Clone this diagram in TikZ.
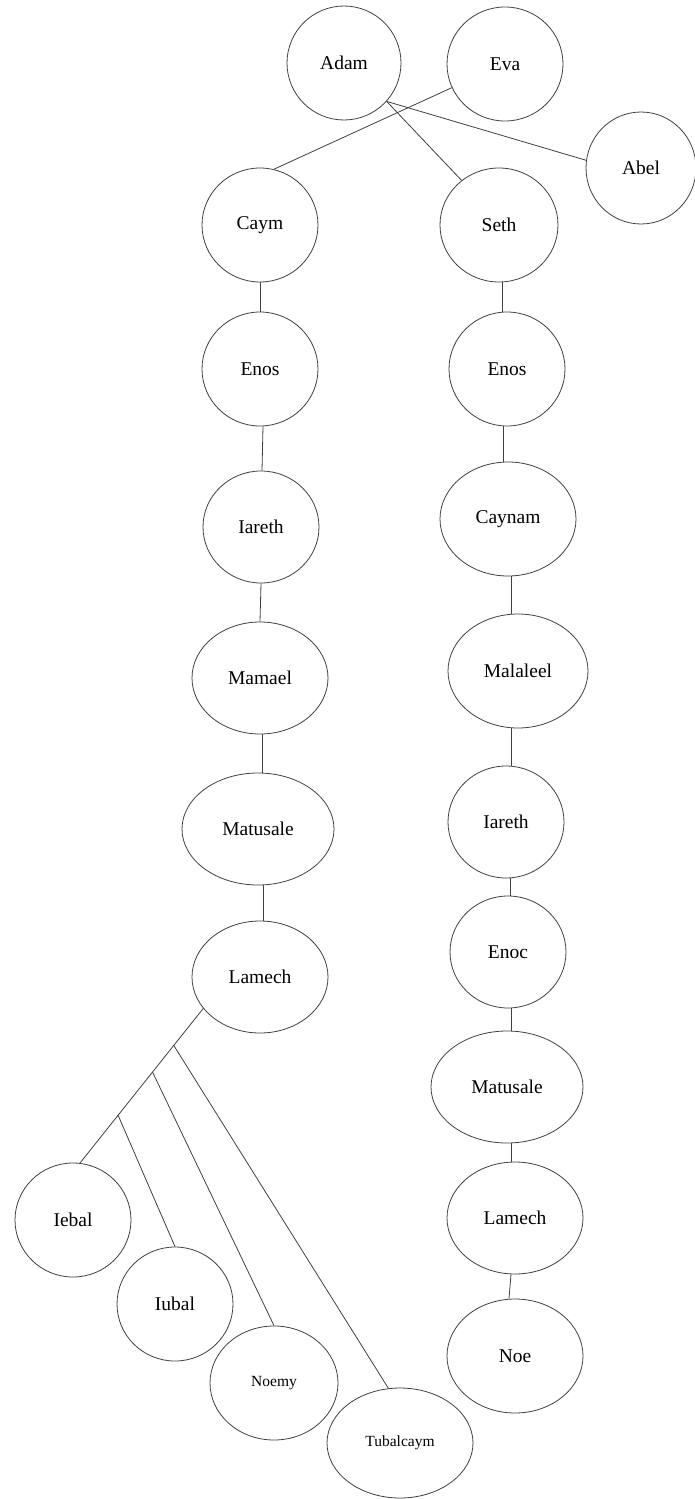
\documentclass[tikz,border=0pt]{standalone}
\usepackage{fontspec}
\setmainfont{Liberation Serif}
\usetikzlibrary{shapes.geometric}
\tikzset{
  person/.style={ellipse, draw=black!75, line width=0.8pt, inner sep=0pt,
    font=\fontsize{19.5}{22}\selectfont},
  smallperson/.style={person, font=\fontsize{15.5}{18}\selectfont},
  link/.style={draw=black!75, line width=0.8pt},
  sz/.style 2 args={minimum width=#1pt, minimum height=#2pt}
}
\begin{document}
\begin{tikzpicture}[x=1pt,y=-1pt]
\useasboundingbox (0,0) rectangle (694,1499);
% top
\node[person, sz={114}{114}] (adam) at (344,63) {Adam};
\node[person, sz={116}{114}] (eva) at (505,64) {Eva};
\node[person, sz={110}{112}] (abel) at (641,168) {Abel};
% left column
\node[person, sz={116}{114}] (caym) at (260,225) {Caym};
\node[person, sz={116}{114}] (enosL) at (260,369) {Enos};
\node[person, sz={116}{112}] (iarethL) at (261,527) {Iareth};
\node[person, sz={136}{112}] (mamael) at (260,678) {Mamael};
\node[person, sz={152}{112}] (matusaleL) at (258,829) {Matusale};
\node[person, sz={136}{112}] (lamechL) at (260,977) {Lamech};
% right column
\node[person, sz={118}{114}] (seth) at (499,225) {Seth};
\node[person, sz={116}{114}] (enosR) at (507,369) {Enos};
\node[person, sz={136}{114}] (caynam) at (508,519) {Caynam};
\node[person, sz={140}{114}] (malaleel) at (518,671) {Malaleel};
\node[person, sz={116}{112}] (iarethR) at (506,822) {Iareth};
\node[person, sz={116}{112}] (enoc) at (508,952) {Enoc};
\node[person, sz={152}{112}] (matusaleR) at (507,1087) {Matusale};
\node[person, sz={136}{112}] (lamechR) at (515,1218) {Lamech};
\node[person, sz={136}{114}] (noe) at (515,1356) {Noe};
% Lamech's children
\node[person, sz={116}{114}] (iebal) at (73,1220) {Iebal};
\node[person, sz={116}{114}] (iubal) at (175,1304) {Iubal};
\node[smallperson, sz={128}{114}] (noemy) at (274,1383) {Noemy};
\node[smallperson, sz={146}{110}] (tubalcaym) at (400,1443) {Tubalcaym};

% top connectors
\draw[link] (eva.204) -- (caym.76);
\draw[link] (adam.318) -- (seth.130);
\draw[link] (adam.318) -- (abel.172);
% left column
\draw[link] (caym.south) -- (enosL.north);
\draw[link] ([xshift=3pt]enosL.south) -- ([xshift=1pt]iarethL.north);
\draw[link] (iarethL.south) -- (mamael.north);
\draw[link] ([xshift=2pt]mamael.south) -- ([xshift=4pt]matusaleL.north);
\draw[link] ([xshift=5pt]matusaleL.south) -- ([xshift=3pt]lamechL.north);
% right column
\draw[link] ([xshift=3pt]seth.south) -- ([xshift=-5pt]enosR.north);
\draw[link] ([xshift=-4pt]enosR.south) -- ([xshift=-5pt]caynam.north);
\draw[link] ([xshift=3pt]caynam.south) -- ([xshift=-7pt]malaleel.north);
\draw[link] ([xshift=-7pt]malaleel.south) -- ([xshift=5pt]iarethR.north);
\draw[link] ([xshift=4pt]iarethR.south) -- ([xshift=2pt]enoc.north);
\draw[link] ([xshift=3pt]enoc.south) -- ([xshift=4pt]matusaleR.north);
\draw[link] ([xshift=4pt]matusaleR.south) -- ([xshift=-4pt]lamechR.north);
\draw[link] ([xshift=-4pt]lamechR.south) -- ([xshift=-6pt]noe.north);
% Lamech's children
\coordinate (b1) at (173.5,1045);
\coordinate (b2) at (152.5,1072);
\coordinate (b3) at (118,1115);
\draw[link] (lamechL.209) -- (iebal.83);
\draw[link] (b1) -- (tubalcaym.102);
\draw[link] (b2) -- (noemy.north);
\draw[link] (b3) -- (iubal.north);
\end{tikzpicture}
\end{document}
